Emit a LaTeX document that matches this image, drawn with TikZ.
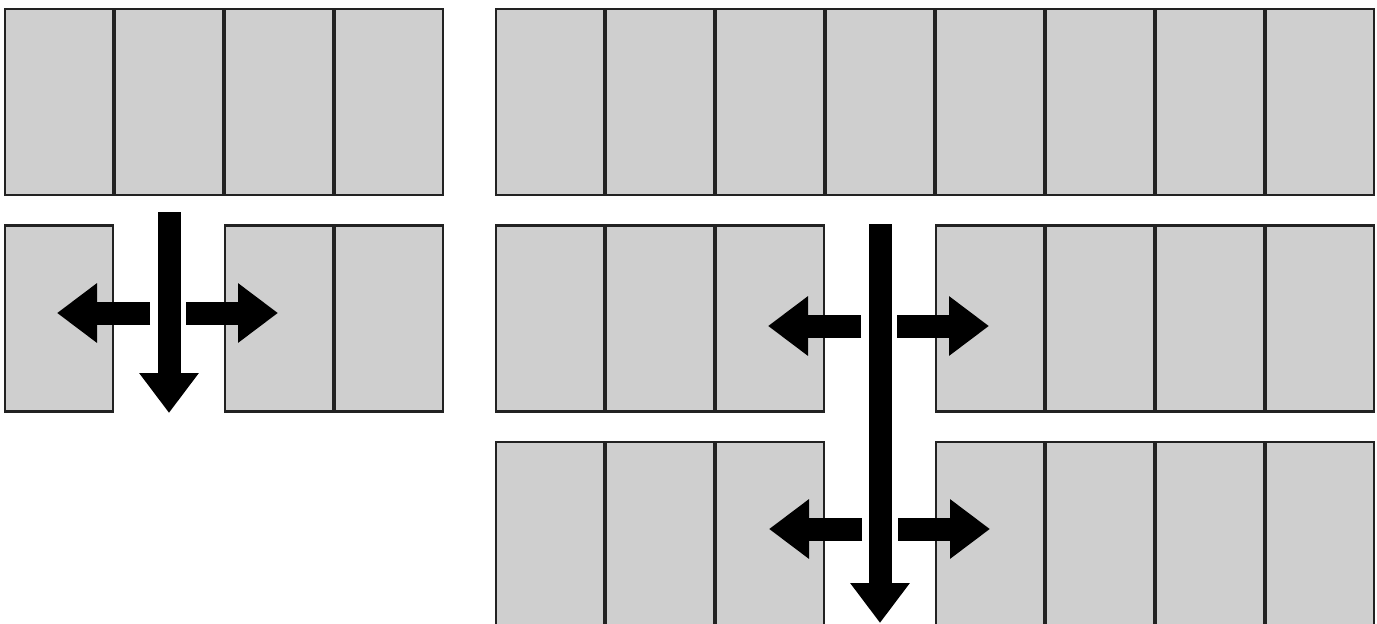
\documentclass[tikz,border=0pt]{standalone}
\usetikzlibrary{arrows.meta}
\definecolor{panelgray}{HTML}{CFCFCF}
\definecolor{paneledge}{HTML}{222222}
\tikzset{
  panel/.style={draw=paneledge, fill=panelgray, line width=2.2pt, minimum width=108pt, minimum height=186pt, inner sep=0pt, outer sep=0pt},
  push/.style={line width=23pt, -{Triangle[length=40pt,width=57pt]}}
}
\begin{document}
\begin{tikzpicture}[x=1pt,y=-1pt]
                \useasboundingbox (0,0) rectangle (1377,624);
                % small block
                \foreach \i in {0,...,3} \node[panel] (S1\i) at ({59+110*\i},102) {};
                \node[panel] (S20) at (59,318.5) {};
                \node[panel] (S22) at (279,318.5) {};
                \node[panel] (S23) at (389,318.5) {};
                % large block
                \foreach \i in {0,...,7} \node[panel] (B1\i) at ({550+110*\i},102) {};
                \foreach \i in {0,1,2,4,5,6,7} \node[panel] (B2\i) at ({550+110*\i},318.5) {};
                \foreach \i in {0,1,2,4,5,6,7} \node[panel] (B3\i) at ({550+110*\i},535) {};

                \coordinate (Sdown) at (169,212); \coordinate (Send) at (169,413);
                \coordinate (Sl) at (150,313); \coordinate (Sltip) at (57,313);
                \coordinate (Sr) at (186,313); \coordinate (Srtip) at (278,313);
                \coordinate (Bdown) at (880,224); \coordinate (Bend) at (880,623);
                \coordinate (B2l) at (861,326); \coordinate (B2ltip) at (768,326);
                \coordinate (B2r) at (897,326); \coordinate (B2rtip) at (989,326);
                \coordinate (B3l) at (862,529); \coordinate (B3ltip) at (769,529);
                \coordinate (B3r) at (898,529); \coordinate (B3rtip) at (990,529);

                \draw[push] (Sdown) to (Send); \draw[push] (Sl) to (Sltip); \draw[push] (Sr) to (Srtip);
                \draw[push] (Bdown) to (Bend); \draw[push] (B2l) to (B2ltip); \draw[push] (B2r) to (B2rtip);
                \draw[push] (B3l) to (B3ltip); \draw[push] (B3r) to (B3rtip);
\end{tikzpicture}
\end{document}
